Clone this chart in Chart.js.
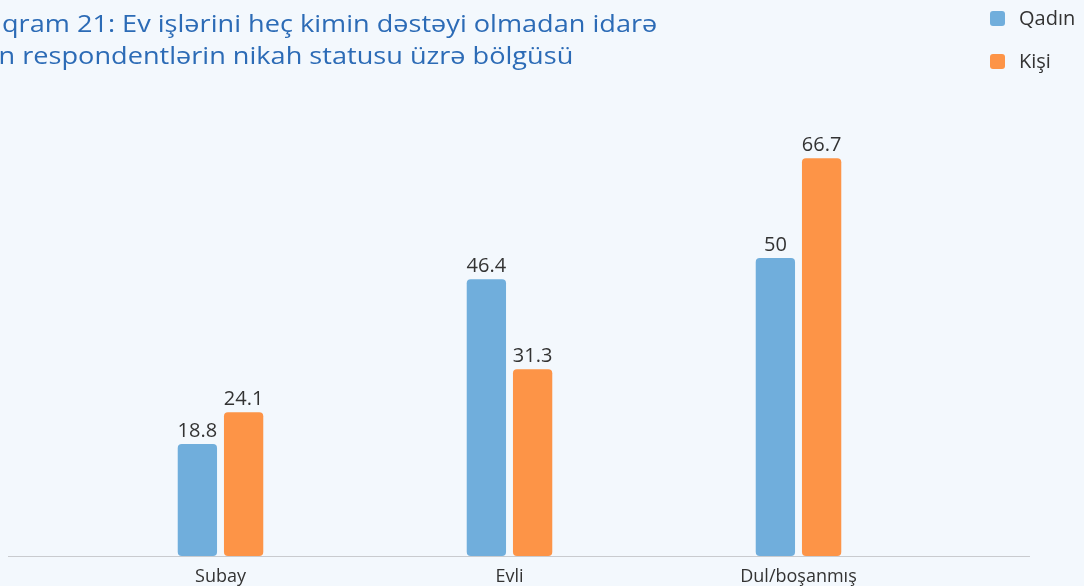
<!DOCTYPE html>
<html>
<head>
<meta charset="utf-8">
<script src="https://cdn.jsdelivr.net/npm/chart.js@4.4.1/dist/chart.umd.min.js"></script>
<style>
  html, body { margin: 0; padding: 0; background: #f3f8fd; overflow: hidden; }
  #wrap { width: 1084px; height: 586px; position: relative; }
</style>
</head>
<body>
<div id="wrap"><canvas id="bar-chart"></canvas></div>
<script>
// data
const categories = ["Subay", "Evli", "Dul/boşanmış"];
const seriesNames = ["Qadın", "Kişi"];
const qadin = [18.8, 46.4, 50];
const kisi = [24.1, 31.3, 66.7];
const titleLines = ["Diaqram 21: Ev işlərini heç kimin dəstəyi olmadan idarə", "edən respondentlərin nikah statusu üzrə bölgüsü"];
const titleCut = ["Dia", "edə"];   // part lost off the left edge in the source

const blue = "#70aedc";
const orange = "#fd9447";
const font = "'Open Sans', 'Noto Sans', sans-serif";

// title, legend, base line and value labels
const decor = {
    id: "decor",
    beforeDatasetsDraw(chart) {
        const ctx = chart.ctx;
        const y0 = Math.round(chart.scales.y.getPixelForValue(0)) + 0.5;
        ctx.save();
        ctx.strokeStyle = "#c9cbcf";
        ctx.lineWidth = 1;
        ctx.beginPath();
        ctx.moveTo(8, y0);
        ctx.lineTo(1030, y0);
        ctx.stroke();
        ctx.restore();
    },
    afterDatasetsDraw(chart) {
        const ctx = chart.ctx;
        ctx.save();
        // value labels
        ctx.font = "20px " + font;
        ctx.fillStyle = "#333333";
        ctx.textAlign = "center";
        ctx.textBaseline = "bottom";
        chart.data.datasets.forEach((ds, i) => {
            chart.getDatasetMeta(i).data.forEach((bar, j) => {
                ctx.fillText(String(ds.data[j]), bar.x, bar.y - 3);
            });
        });
        // legend
        ctx.font = "20px " + font;
        ctx.textAlign = "left";
        ctx.textBaseline = "middle";
        chart.data.datasets.forEach((ds, i) => {
            const y = 19 + i * 43;
            ctx.fillStyle = ds.backgroundColor;
            ctx.beginPath();
            ctx.roundRect(990, y - 8, 15, 15, 3);
            ctx.fill();
            ctx.fillStyle = "#333333";
            ctx.fillText(ds.label, 1019, y);
        });
        // title (cut at the left edge like the source)
        const sx = 1.13;
        ctx.font = "24px " + font;
        ctx.fillStyle = "#2c6bb6";
        ctx.textBaseline = "alphabetic";
        ctx.scale(sx, 1);
        titleLines.forEach((line, i) => {
            const shift = ctx.measureText(titleCut[i]).width + (i === 1 ? 3 : 0);
            ctx.fillText(line, 2 / sx - shift, 32 + i * 32);
        });
        ctx.restore();
    }
};

new Chart(document.getElementById("bar-chart"), {
    type: "bar",
    data: {
        labels: categories,
        datasets: [
            { label: seriesNames[0], data: qadin, backgroundColor: blue },
            { label: seriesNames[1], data: kisi, backgroundColor: orange }
        ]
    },
    options: {
        responsive: true,
        maintainAspectRatio: false,
        animation: false,
        layout: { padding: { left: 76, right: 141, top: 79, bottom: 0 } },
        datasets: {
            bar: {
                categoryPercentage: 0.32,
                barPercentage: 0.85,
                borderRadius: 4,
                borderSkipped: false
            }
        },
        scales: {
            x: {
                grid: { display: false, drawTicks: false },
                border: { display: false },
                ticks: { color: "#333333", font: { family: font, size: 18 }, padding: 10 },
                afterFit: (scale) => { scale.height = 30; }
            },
            y: { display: false, min: 0, max: 80 }
        },
        plugins: {
            legend: { display: false },
            title: { display: false },
            tooltip: { enabled: false }
        }
    },
    plugins: [decor]
});
</script>
</body>
</html>
